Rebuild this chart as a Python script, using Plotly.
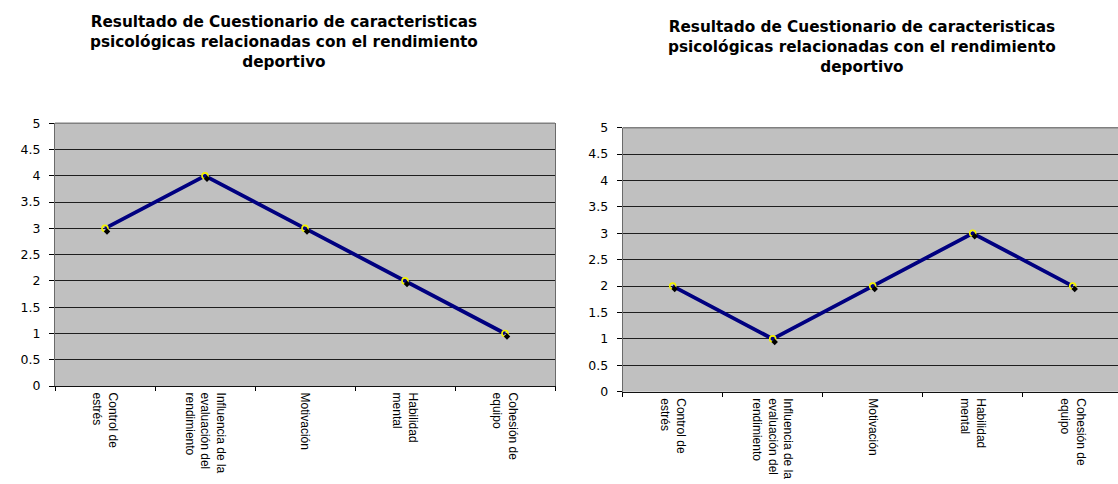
import plotly.graph_objects as go

# Questionnaire dimensions (x categories)
categorias = [
    "Control de<br>estrés",
    "Influencia de la<br>evaluación del<br>rendimiento",
    "Motivación",
    "Habilidad<br>mental",
    "Cohesión de<br>equipo",
]

# Scores for each chart
puntaje_izq = [3, 4, 3, 2, 1]
puntaje_der = [2, 1, 2, 3, 2]

# Y-axis ticks
y_ticks = [0, 0.5, 1, 1.5, 2, 2.5, 3, 3.5, 4, 4.5, 5]
y_tick_text = ["0", "0.5", "1", "1.5", "2", "2.5", "3", "3.5", "4", "4.5", "5"]

titulo = ("Resultado de Cuestionario de caracteristicas<br>"
          "psicológicas relacionadas con el rendimiento<br>deportivo")

W, H = 1118, 484
LINE = "#000080"
MARK = "#f2f200"
GRID = "#1e1e1e"
BORDER = "#808080"


def px_x(p):
    return p / W


def px_y(p):
    return (H - p) / H


fig = go.Figure()


def add_chart(values, xa, ya, xs, ys):
    # drop shadow of each marker, on slightly shifted overlay axes
    fig.add_trace(go.Scatter(
        x=categorias, y=values, mode="markers",
        marker=dict(symbol="diamond", size=5, color="#000000"),
        xaxis=xs, yaxis=ys, showlegend=False, hoverinfo="skip"))
    fig.add_trace(go.Scatter(
        x=categorias, y=values, mode="lines+markers",
        line=dict(color=LINE, width=3.8),
        marker=dict(symbol="circle-open", size=6, color=MARK,
                    line=dict(color=MARK, width=1.6)),
        xaxis=xa, yaxis=ya, showlegend=False))


add_chart(puntaje_izq, "x", "y", "x3", "y3")
add_chart(puntaje_der, "x2", "y2", "x4", "y4")

xcommon = dict(
    type="category", categoryorder="array", categoryarray=categorias,
    tickson="boundaries", ticks="outside", ticklen=4, tickcolor="#000000",
    tickwidth=1, showline=True, linecolor="#111111", linewidth=1.3,
    showgrid=False, zeroline=False, tickangle=90, automargin=False,
    ticklabelstandoff=3,
    tickfont=dict(family="Liberation Sans, Arial", size=12, color="#000000"),
)
ycommon = dict(
    range=[0, 5], tickmode="array", tickvals=y_ticks, ticktext=y_tick_text,
    ticks="outside", ticklen=5, tickcolor="#000000", tickwidth=1,
    showgrid=True, gridcolor=GRID, gridwidth=1.3, zeroline=False,
    showline=True, linecolor="#6a6a6a", linewidth=1.2,
    ticklabelstandoff=6, automargin=False,
    tickfont=dict(family="DejaVu Sans", size=12.5, color="#000000"),
)

left_dom_x = [px_x(55), px_x(555)]
left_dom_y = [px_y(386), px_y(123.3)]
right_dom_x = [px_x(622.7), 1.0]
right_dom_y = [px_y(391.7), px_y(127.7)]

right_xrange = [-0.5, (W - 622.7) / 100.0 - 0.5]

# vertical shadow offsets (about 3 px) expressed in data units
sh_l = 3 * 5 / (386 - 123.3)
sh_r = 3 * 5 / (391.7 - 127.7)

fig.update_layout(
    width=W, height=H, autosize=False,
    margin=dict(l=0, r=0, t=0, b=0),
    paper_bgcolor="#ffffff", plot_bgcolor="#c0c0c0",
    xaxis=dict(domain=left_dom_x, anchor="y", range=[-0.5, 4.5], **xcommon),
    yaxis=dict(domain=left_dom_y, anchor="x", mirror=True, **ycommon),
    xaxis2=dict(domain=right_dom_x, anchor="y2", range=right_xrange, **xcommon),
    yaxis2=dict(domain=right_dom_y, anchor="x2", **ycommon),
    xaxis3=dict(overlaying="x", anchor="y3", visible=False, automargin=False,
                type="category", categoryorder="array", categoryarray=categorias,
                range=[-0.52, 4.48]),
    yaxis3=dict(overlaying="y", anchor="x3", visible=False, automargin=False,
                range=[sh_l, 5 + sh_l]),
    xaxis4=dict(overlaying="x2", anchor="y4", visible=False, automargin=False,
                type="category", categoryorder="array", categoryarray=categorias,
                range=[right_xrange[0] - 0.02, right_xrange[1] - 0.02]),
    yaxis4=dict(overlaying="y2", anchor="x4", visible=False, automargin=False,
                range=[sh_r, 5 + sh_r]),
)

# grey plot-area border along the top edge
for xr, yr in (("x domain", "y domain"), ("x2 domain", "y2 domain")):
    fig.add_shape(type="line", xref=xr, yref=yr, x0=0, x1=1, y0=1, y1=1,
                  line=dict(color=BORDER, width=1.5), layer="above")

title_font = dict(family="DejaVu Sans", size=15.3, color="#000000",
                  weight="bold")
fig.add_annotation(text=titulo, xref="paper", yref="paper",
                   x=px_x(284), y=px_y(42), xanchor="center", yanchor="middle",
                   showarrow=False, align="center", font=title_font)
fig.add_annotation(text=titulo, xref="paper", yref="paper",
                   x=px_x(861.5), y=px_y(47), xanchor="center", yanchor="middle",
                   showarrow=False, align="center", font=title_font)

fig.write_html("out.html")
